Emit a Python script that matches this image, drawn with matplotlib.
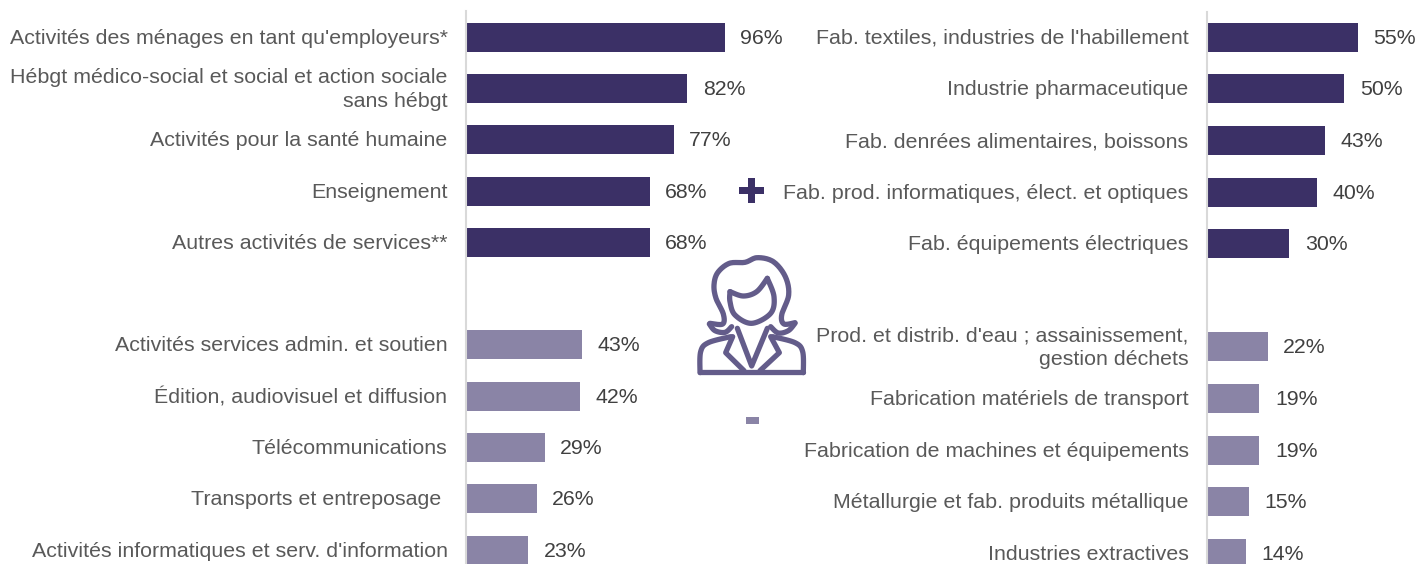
import matplotlib
matplotlib.use("Agg")
import matplotlib.pyplot as plt
from matplotlib.patches import Rectangle
import numpy as np

plt.rcParams['font.family'] = ['Liberation Sans', 'DejaVu Sans']

left_labels = ["Activités des ménages en tant qu'employeurs*",
               "Hébgt médico-social et social et action sociale\nsans hébgt",
               "Activités pour la santé humaine", "Enseignement",
               "Autres activités de services**", "",
               "Activités services admin. et soutien",
               "Édition, audiovisuel et diffusion", "Télécommunications",
               "Transports et entreposage ",
               "Activités informatiques et serv. d'information"]
left_values = [96, 82, 77, 68, 68, 0, 43, 42, 29, 26, 23]

right_labels = ["Fab. textiles, industries de l'habillement",
                "Industrie pharmaceutique",
                "Fab. denrées alimentaires, boissons",
                "Fab. prod. informatiques, élect. et optiques",
                "Fab. équipements électriques", "",
                "Prod. et distrib. d'eau ; assainissement,\ngestion déchets",
                "Fabrication matériels de transport",
                "Fabrication de machines et équipements",
                "Métallurgie et fab. produits métallique",
                "Industries extractives"]
right_values = [55, 50, 43, 40, 30, 0, 22, 19, 19, 15, 14]

W, H = 1417, 564
dark = "#3b3066"
light = "#8a84a6"
icon_col = "#635c8a"
fs = 15.42

fig = plt.figure(figsize=(W / 100, H / 100), dpi=100)


def bars(x0, top, slot, px_per, labels, values):
    # axes run past the bottom of the figure, same as the cropped original
    n = len(values)
    width = 300
    ax = fig.add_axes([x0 / W, 1 - (top + slot * n) / H, width / W, slot * n / H])
    ax.set_xlim(0, width / px_per)
    ax.set_ylim(n - 0.5, -0.5)
    y = np.arange(n)
    cols = [dark if i < 5 else light for i in y]
    ax.barh(y, values, height=0.565, color=cols, left=0.6 / px_per)
    dy = 1.0 / slot
    for i in y:
        if values[i] == 0:
            continue
        ax.text(values[i] + 16.2 / px_per, i + dy, "%d%%" % values[i], va='center',
                ha='left', fontsize=15.3, color="#404040", clip_on=False)
        ax.text(-18.5 / px_per, i + dy, labels[i], va='center', ha='right',
                fontsize=fs, color="#595959", clip_on=False, linespacing=1.3)
    for s in ['top', 'right', 'bottom']:
        ax.spines[s].set_visible(False)
    ax.spines['left'].set_color("#d9d9d9")
    ax.spines['left'].set_linewidth(1.5)
    ax.set_xticks([])
    ax.set_yticks([])
    ax.patch.set_alpha(0)
    return ax


bars(466, 11.5, 51.3, 2.69, left_labels, left_values)
bars(1207, 11.5, 51.6, 2.73, right_labels, right_values)

# overlay in pixel coords for the icon and the +/- signs
ov = fig.add_axes([0, 0, 1, 1])
ov.set_xlim(0, W)
ov.set_ylim(H, 0)
ov.axis('off')
ov.patch.set_alpha(0)

ov.add_patch(Rectangle((739, 187), 25, 7, color=dark, lw=0))
ov.add_patch(Rectangle((748, 178), 7, 25, color=dark, lw=0))
ov.add_patch(Rectangle((746, 417), 13, 7, color=light, lw=0))


def smooth(pts, closed=False, k=12):
    # catmull-rom through the outline points
    p = np.array(pts, float)
    if closed:
        p = np.vstack([p[-1], p, p[0], p[1]])
    else:
        p = np.vstack([p[0], p, p[-1]])
    out = []
    for i in range(1, len(p) - 2):
        for t in np.linspace(0, 1, k, endpoint=False):
            out.append(0.5 * (2 * p[i] + (p[i + 1] - p[i - 1]) * t
                              + (2 * p[i - 1] - 5 * p[i] + 4 * p[i + 1] - p[i + 2]) * t ** 2
                              + (3 * p[i] - p[i - 1] - 3 * p[i + 1] + p[i + 2]) * t ** 3))
    out.append(p[-2])
    return np.array(out)


def stroke(pts, curved=True, closed=False):
    pts = smooth(pts, closed) if curved else np.array(pts, float)
    ov.plot(680 + pts[:, 0] / 3, 160 + pts[:, 1] / 3, color=icon_col, lw=3.8,
            solid_capstyle='round', solid_joinstyle='round')


# hair
stroke([(90, 490), (128, 492), (130, 462), (108, 415), (102, 375), (113, 338),
        (148, 310), (195, 307), (232, 293), (280, 305), (316, 350), (326, 405),
        (305, 465), (312, 492), (345, 488)])
stroke([(88, 492), (105, 512), (135, 517), (155, 500)])
stroke([(345, 490), (325, 512), (295, 519), (272, 500)])
# face
stroke([(150, 395), (190, 408), (230, 395), (262, 355)])
stroke([(262, 355), (282, 410), (272, 460), (215, 490), (165, 465), (150, 425), (150, 395)])
# shoulders
stroke([(60, 638), (62, 575), (85, 548), (152, 530)])
stroke([(370, 638), (368, 575), (345, 548), (278, 530)])
stroke([(60, 636), (370, 636)], curved=False)
# lapels
stroke([(158, 530), (137, 578), (192, 632)], curved=False)
stroke([(172, 505), (215, 618), (262, 505)], curved=False)
stroke([(272, 530), (298, 578), (240, 632)], curved=False)

fig.savefig("out.png", dpi=100)
